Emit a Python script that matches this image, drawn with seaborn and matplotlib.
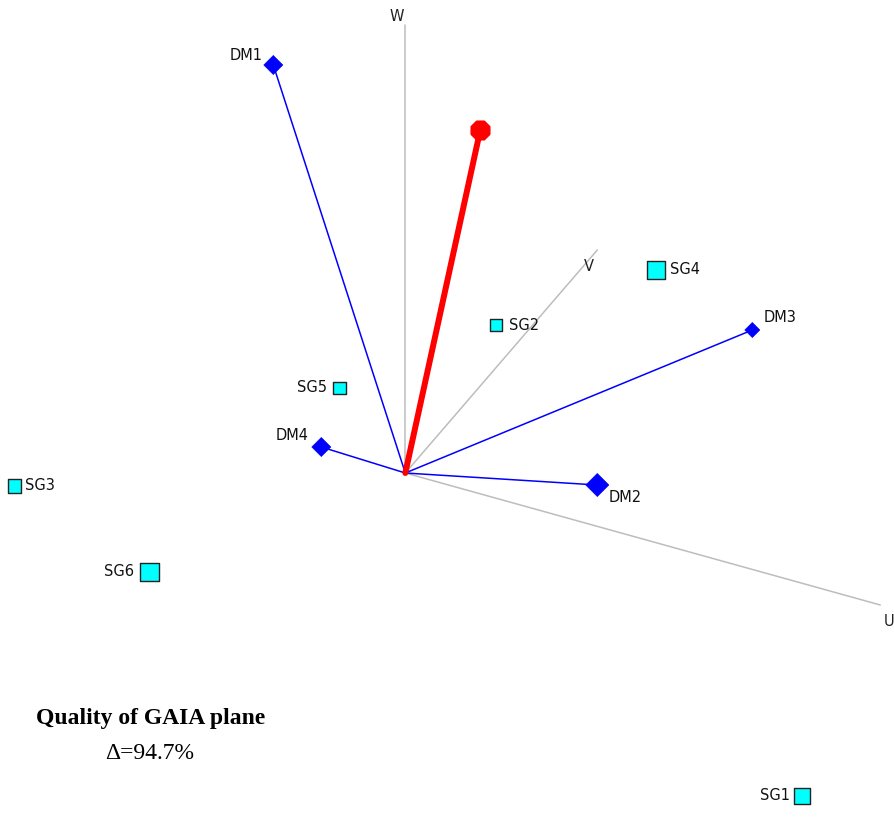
import matplotlib
matplotlib.use("Agg")
import matplotlib.pyplot as plt
import seaborn as sns
import numpy as np

sns.set_style("white")
plt.rcParams['font.family'] = ['DejaVu Sans']

# GAIA plane coordinates (origin = centre of the plane)
criteria = ["DM1", "DM2", "DM3", "DM4"]
crit_x = [-1.32, 1.92, 3.47, -0.84]
crit_y = [4.08, -0.12, 1.43, 0.26]
crit_size = [93, 137, 58, 93]

alts = ["SG1", "SG2", "SG3", "SG4", "SG5", "SG6"]
alt_x = [3.97, 0.91, -3.91, 2.51, -0.66, -2.56]
alt_y = [-3.23, 1.48, -0.13, 2.03, 0.85, -0.99]
alt_size = [133, 75, 88, 168, 81, 187]

axes_names = ["U", "V", "W"]
axes_x = [4.75, 1.92, 0.0]
axes_y = [-1.32, 2.23, 4.48]

stick_x = [0.75]
stick_y = [3.43]

quality = 94.7

fig = plt.figure(figsize=(8.95, 8.34), dpi=100)
ax = fig.add_axes([0, 0, 1, 1])
ax.set_xlim(-4.053, 4.897)
ax.set_ylim(-3.61, 4.73)
ax.axis("off")

# axes of the plane (gray)
for ex, ey in zip(axes_x, axes_y):
    sns.lineplot(x=[0, ex], y=[0, ey], ax=ax, color="#bdbdbd", lw=1.1,
                 sort=False, estimator=None, zorder=1)
axis_off = {"U": (6, -12, "center"), "V": (-6, -12, "center"), "W": (-6, 6, "center")}
for n, ex, ey in zip(axes_names, axes_x, axes_y):
    dx, dy, ha = axis_off[n]
    ax.annotate(n, (ex, ey), xytext=(dx, dy), textcoords="offset points",
                ha=ha, va="center", fontsize=10.5, color="#222222")

# criteria lines (blue)
for cx, cy in zip(crit_x, crit_y):
    sns.lineplot(x=[0, cx], y=[0, cy], ax=ax, color="#0000ff", lw=1.1,
                 sort=False, estimator=None, zorder=2)
sns.scatterplot(x=crit_x, y=crit_y, s=crit_size, marker="D", color="#0000ff",
                edgecolor="#0000ff", linewidth=0.5, ax=ax, zorder=4, legend=False)
crit_off = {"DM1": (-8, 7, "right"), "DM2": (8, -9, "left"),
            "DM3": (8, 9, "left"), "DM4": (-9, 8, "right")}
for n, cx, cy in zip(criteria, crit_x, crit_y):
    dx, dy, ha = crit_off[n]
    ax.annotate(n, (cx, cy), xytext=(dx, dy), textcoords="offset points",
                ha=ha, va="center", fontsize=10.5, color="#111111")

# decision stick (red)
for sx, sy in zip(stick_x, stick_y):
    sns.lineplot(x=[0, sx], y=[0, sy], ax=ax, color="#ff0000", lw=4.3,
                 sort=False, estimator=None, zorder=3)
sns.scatterplot(x=stick_x, y=stick_y, s=207, marker="8", color="#ff0000",
                edgecolor="#ff0000", ax=ax, zorder=5, legend=False)

# alternatives (cyan squares)
sns.scatterplot(x=alt_x, y=alt_y, s=alt_size, marker="s", color="#00ffff",
                edgecolor="#222222", linewidth=1.0, ax=ax, zorder=4, legend=False)
alt_off = {"SG1": (-9, "right"), "SG2": (9, "left"), "SG3": (8, "left"),
           "SG4": (10, "left"), "SG5": (-9, "right"), "SG6": (-11, "right")}
for n, axx, ayy in zip(alts, alt_x, alt_y):
    dx, ha = alt_off[n]
    ax.annotate(n, (axx, ayy), xytext=(dx, 0), textcoords="offset points",
                ha=ha, va="center", fontsize=10.5, color="#111111")

# quality text
ax.text(0.168, 0.139, "Quality of GAIA plane", transform=ax.transAxes,
        ha="center", va="center", fontsize=17, fontweight="bold",
        family="Liberation Serif", color="black")
ax.text(0.167, 0.097, f"\u0394={quality}%", transform=ax.transAxes,
        ha="center", va="center", fontsize=17, family="Liberation Serif",
        color="black")

fig.savefig("out.png", dpi=100)
